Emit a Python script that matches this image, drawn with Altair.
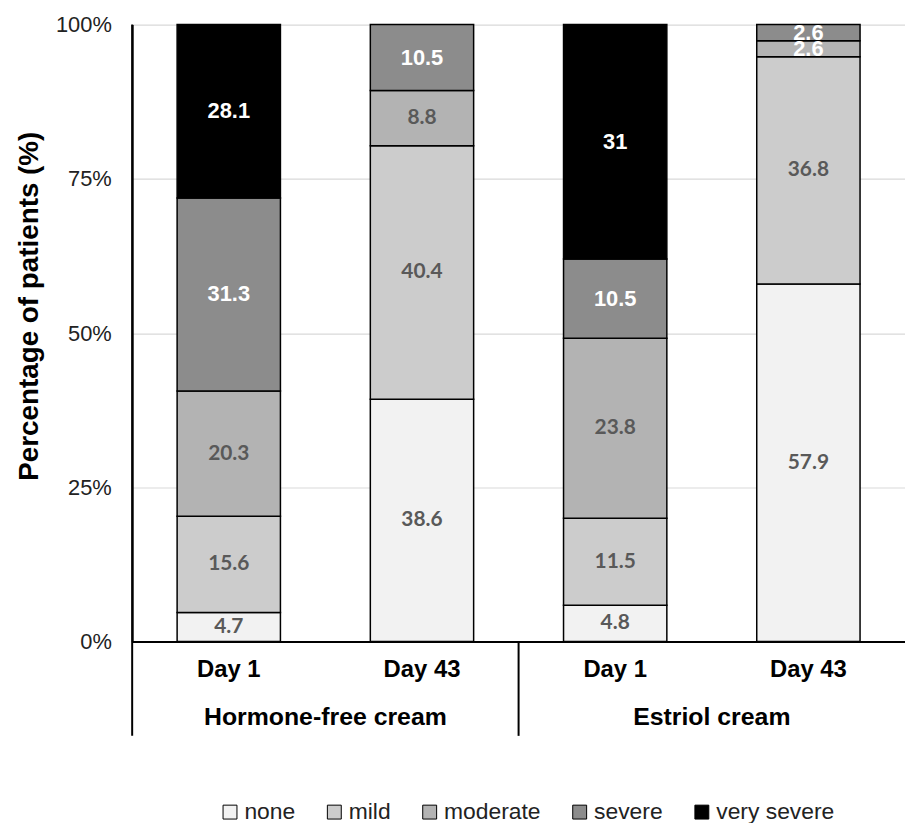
import altair as alt
import pandas as pd

groups = ["Hormone-free cream", "Hormone-free cream", "Estriol cream", "Estriol cream"]
days = ["Day 1", "Day 43", "Day 1", "Day 43"]
severity = ["none", "mild", "moderate", "severe", "very severe"]
none_vals = [4.7, 38.6, 4.8, 57.9]
mild_vals = [15.6, 40.4, 11.5, 36.8]
moderate_vals = [20.3, 8.8, 23.8, 2.6]
severe_vals = [31.3, 10.5, 10.5, 2.6]
very_severe_vals = [28.1, 0, 31, 0]
colors = ["#f2f2f2", "#cccccc", "#b3b3b3", "#8c8c8c", "#000000"]

series = [none_vals, mild_vals, moderate_vals, severe_vals, very_severe_vals]
keys = [g + "|" + d for g, d in zip(groups, days)]

rows = []
for b, key in enumerate(keys):
    for i, sev in enumerate(severity):
        v = series[i][b]
        if v > 0:
            rows.append({"key": key, "group": groups[b], "day": days[b],
                         "sev": sev, "idx": i, "val": v, "lbl": f"{v:g}"})
df = pd.DataFrame(rows)

day_df = pd.DataFrame({"key": keys, "day": days})
grp_df = pd.DataFrame({"key": [keys[0], keys[2]], "group": [groups[0], groups[2]]})
sep_df = pd.DataFrame({"key": [keys[0], keys[2]]})

H = 621
W = 778

xscale = alt.Scale(domain=keys, paddingInner=0, paddingOuter=0)
yscale = alt.Scale(domain=[0, 1])

xaxis = alt.Axis(labels=False, ticks=False, title=None, grid=False,
                 domainColor="black", domainWidth=2)
yaxis = alt.Axis(format="%", values=[0, 0.25, 0.5, 0.75, 1],
                 title="Percentage of patients (%)", ticks=False,
                 domainColor="black", domainWidth=2,
                 gridColor="#d9d9d9", gridWidth=1.2,
                 labelFontSize=22, labelColor="#222222",
                 labelFont="Liberation Sans", labelPadding=21,
                 titleFont="Liberation Sans", titleFontSize=28,
                 titleFontWeight="bold", titleColor="black",
                 titleX=-103, titleY=283, titleAngle=270,
                 titleAlign="center", titleBaseline="middle")

base = alt.Chart(df)

bars = base.mark_bar(size=104, stroke="black", strokeWidth=1.5).encode(
    x=alt.X("key:N", scale=xscale, sort=keys, axis=xaxis),
    y=alt.Y("val:Q", stack="normalize", scale=yscale, axis=yaxis),
    color=alt.Color("sev:N", scale=alt.Scale(domain=severity, range=colors),
                    legend=alt.Legend(title=None, orient="none", legendX=87, legendY=781,
                                      direction="horizontal", columns=5,
                                      symbolType="square", symbolSize=196,
                                      symbolStrokeColor="black", symbolStrokeWidth=1,
                                      labelFontSize=23, labelFont="Liberation Sans",
                                      labelColor="#222222", labelOffset=3,
                                      columnPadding=27)),
    order=alt.Order("idx:Q", sort="ascending"),
)

lab_base = base.transform_joinaggregate(
    total="sum(val)", groupby=["key"]
).transform_window(
    cum="sum(val)", groupby=["key"], sort=[alt.SortField("idx")]
).transform_calculate(
    mid="(datum.cum - datum.val / 2) / datum.total"
)

white_cond = "datum.sev == 'severe' || datum.sev == 'very severe' || datum.val < 3"

labels_white = lab_base.transform_filter(white_cond).mark_text(
    font="Liberation Sans", fontWeight="bold", fontSize=22, color="white", baseline="middle"
).encode(
    x=alt.X("key:N", scale=xscale, sort=keys, axis=xaxis),
    y=alt.Y("mid:Q", scale=yscale, axis=yaxis),
    text="lbl:N",
)

labels_gray = lab_base.transform_filter("!(" + white_cond + ")").mark_text(
    font="Lato", fontWeight="bold", fontSize=21, color="#595959", baseline="middle"
).encode(
    x=alt.X("key:N", scale=xscale, sort=keys, axis=xaxis),
    y=alt.Y("mid:Q", scale=yscale, axis=yaxis),
    text="lbl:N",
)

day_text = alt.Chart(day_df).mark_text(
    font="Liberation Sans", fontWeight="bold", fontSize=24, color="black", baseline="middle"
).encode(
    x=alt.X("key:N", scale=xscale, sort=keys, axis=xaxis),
    y=alt.value(H + 29),
    text="day:N",
)

grp_text = alt.Chart(grp_df).mark_text(
    font="Liberation Sans", fontWeight="bold", fontSize=25, color="black", baseline="middle"
).encode(
    x=alt.X("key:N", scale=xscale, sort=keys, axis=xaxis, bandPosition=1),
    y=alt.value(H + 76),
    text="group:N",
)

sep_left = alt.Chart(sep_df.iloc[[0]]).mark_rule(color="black", strokeWidth=2).encode(
    x=alt.X("key:N", scale=xscale, sort=keys, axis=xaxis, bandPosition=0),
    y=alt.value(0),
    y2=alt.value(H + 95),
)

sep_mid = alt.Chart(sep_df.iloc[[1]]).mark_rule(color="black", strokeWidth=2).encode(
    x=alt.X("key:N", scale=xscale, sort=keys, axis=xaxis, bandPosition=0),
    y=alt.value(H),
    y2=alt.value(H + 95),
)

chart = alt.layer(bars, labels_white, labels_gray, day_text, grp_text, sep_left, sep_mid).properties(
    width=W, height=H,
    autosize=alt.AutoSizeParams(type="none"),
    padding={"left": 125, "top": 14, "right": 0, "bottom": 180},
).configure_view(stroke=None)

chart.save("out.html", embed_options={"renderer": "svg", "actions": False})
